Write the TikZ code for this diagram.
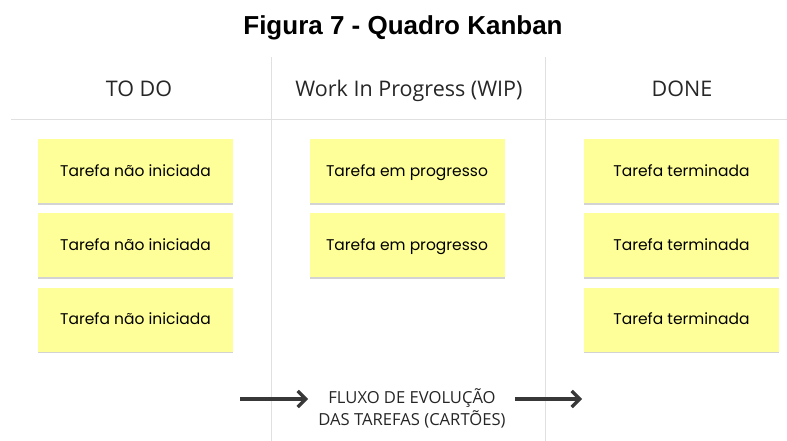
\documentclass[tikz,border=0pt]{standalone}
\usepackage{fontspec}
\setmainfont{Open Sans}
\newfontfamily\titlefont{Liberation Sans}
\newfontfamily\cardfont{Poppins}
\usetikzlibrary{shadows, positioning, arrows.meta}
\definecolor{cardColor}{RGB}{255,255,153}
\colorlet{lineColor}{black!12}
\colorlet{drawColor}{black!78}
\tikzstyle{card}=[rectangle, minimum width=195pt, minimum height=64pt,
  text height=11pt, text depth=1pt,
  fill=cardColor, drop shadow={shadow xshift=0pt, shadow yshift=-1.8pt, opacity=0.35},
  font=\cardfont\fontsize{15.5}{18}\selectfont, text=black]
\tikzstyle{header}=[anchor=base, font=\fontsize{21.5}{24}\selectfont, text=black!85]
\tikzstyle{divider}=[draw=lineColor, line width=1pt]
\tikzstyle{arrow}=[-{Straight Barb[length=8pt,width=16pt]}, line width=3.2pt, draw=drawColor]

\begin{document}
\begin{tikzpicture}[x=1pt, y=-1pt]
      \useasboundingbox (0,0) rectangle (787,441);
      \node(title) at (403,35) [anchor=base, font=\titlefont\bfseries\fontsize{26}{30}\selectfont] {Figura 7 - Quadro Kanban};
      % board lines
      \coordinate(h0) at (11,120);
      \coordinate(h1) at (787,120);
      \coordinate(v1a) at (271,57);
      \coordinate(v1b) at (271,441);
      \coordinate(v2a) at (545,57);
      \coordinate(v2b) at (545,441);
      \draw[divider] (h0) -- (h1);
      \draw[divider] (v1a) -- (v1b);
      \draw[divider] (v2a) -- (v2b);
      % column headers
      \node(todo) at (139,97) [header] {TO DO};
      \node(wip) at (409,97) [header] {Work In Progress (WIP)};
      \node(done) at (682,97) [header] {DONE};
      % cards
      \node(t1) at (135.5,171) [card] {Tarefa não iniciada};
      \node(t2) at (135.5,245) [card] {Tarefa não iniciada};
      \node(t3) at (135.5,319.5) [card] {Tarefa não iniciada};
      \node(p1) at (407,171) [card] {Tarefa em progresso};
      \node(p2) at (407,245) [card] {Tarefa em progresso};
      \node(d1) at (681.5,171) [card] {Tarefa terminada};
      \node(d2) at (681.5,245) [card] {Tarefa terminada};
      \node(d3) at (681.5,319.5) [card] {Tarefa terminada};
      % flow
      \node(flow) at (412,408) [align=center, font=\fontsize{16.6}{22}\selectfont, text=black!85] {FLUXO DE EVOLUÇÃO\\DAS TAREFAS (CARTÕES)};
      \coordinate(a0) at (240,399);
      \coordinate(a1) at (308,399);
      \coordinate(b0) at (515,399);
      \coordinate(b1) at (582,399);
      \draw[arrow] (a0) to (a1);
      \draw[arrow] (b0) to (b1);
    \end{tikzpicture}
\end{document}
